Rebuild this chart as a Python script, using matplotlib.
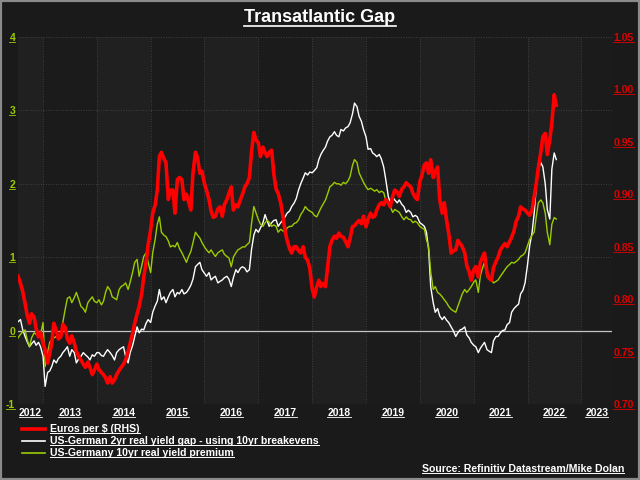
import matplotlib
matplotlib.use('Agg')
import matplotlib.pyplot as plt
from matplotlib.lines import Line2D
from matplotlib.patches import Rectangle
import matplotlib.dates as mdates
import pandas as pd
from datetime import datetime

plt.rcParams['font.family'] = ['Liberation Sans Narrow', 'Liberation Sans', 'DejaVu Sans']

# semi-monthly observations (1st and 15th), mid Jul 2012 - mid Jul 2022
dates = pd.date_range('2012-07-15', '2022-07-15', freq='SMS')

# Euros per $ (right axis)
eur_per_usd = [
    0.822, 0.815, 0.808, 0.796, 0.785, 0.777, 0.786, 0.783, 0.772, 0.764, 0.768, 0.758,
    0.752, 0.739, 0.748, 0.758, 0.777, 0.770, 0.762, 0.764, 0.776, 0.773, 0.762, 0.758,
    0.765, 0.758, 0.750, 0.745, 0.742, 0.738, 0.735, 0.740, 0.735, 0.728, 0.732, 0.738,
    0.733, 0.730, 0.728, 0.725, 0.720, 0.726, 0.720, 0.723, 0.728, 0.732, 0.735, 0.738,
    0.742, 0.750, 0.758, 0.768, 0.777, 0.786, 0.793, 0.805, 0.821, 0.835, 0.852, 0.866,
    0.882, 0.890, 0.904, 0.936, 0.940, 0.934, 0.930, 0.895, 0.904, 0.904, 0.882, 0.914,
    0.916, 0.914, 0.895, 0.900, 0.893, 0.885, 0.920, 0.940, 0.935, 0.920, 0.922, 0.910,
    0.904, 0.895, 0.884, 0.878, 0.879, 0.886, 0.888, 0.879, 0.890, 0.895, 0.901, 0.907,
    0.885, 0.890, 0.888, 0.895, 0.900, 0.907, 0.910, 0.916, 0.940, 0.959, 0.952, 0.949,
    0.936, 0.945, 0.940, 0.936, 0.940, 0.942, 0.920, 0.905, 0.901, 0.892, 0.880, 0.865,
    0.856, 0.848, 0.844, 0.850, 0.850, 0.846, 0.844, 0.850, 0.840, 0.837, 0.830, 0.810,
    0.802, 0.812, 0.818, 0.812, 0.815, 0.812, 0.830, 0.850, 0.856, 0.860, 0.858, 0.863,
    0.860, 0.859, 0.855, 0.850, 0.858, 0.869, 0.870, 0.873, 0.875, 0.872, 0.879, 0.869,
    0.876, 0.882, 0.878, 0.879, 0.885, 0.890, 0.892, 0.890, 0.895, 0.892, 0.888, 0.898,
    0.904, 0.902, 0.898, 0.905, 0.907, 0.911, 0.909, 0.907, 0.901, 0.897, 0.895, 0.912,
    0.918, 0.928, 0.930, 0.920, 0.933, 0.916, 0.922, 0.926, 0.895, 0.882, 0.892, 0.875,
    0.863, 0.844, 0.846, 0.847, 0.856, 0.853, 0.850, 0.844, 0.832, 0.826, 0.818, 0.828,
    0.831, 0.821, 0.835, 0.840, 0.844, 0.825, 0.820, 0.818, 0.830, 0.836, 0.840, 0.847,
    0.850, 0.853, 0.850, 0.855, 0.859, 0.865, 0.874, 0.879, 0.888, 0.886, 0.885, 0.882,
    0.880, 0.885, 0.898, 0.910, 0.925, 0.940, 0.955, 0.958, 0.938, 0.952, 0.968, 0.995,
    0.985,
]

# US-German 2yr real yield gap - using 10yr breakevens (left axis)
gap_2yr = [
    0.12, 0.15, 0.02, -0.08, -0.15, -0.22, -0.18, -0.14, -0.20, -0.16, -0.22, -0.35,
    -0.76, -0.57, -0.55, -0.49, -0.40, -0.44, -0.38, -0.35, -0.30, -0.26, -0.22, -0.35,
    -0.26, -0.30, -0.44, -0.38, -0.35, -0.30, -0.33, -0.36, -0.40, -0.33, -0.35, -0.30,
    -0.30, -0.34, -0.35, -0.30, -0.26, -0.30, -0.34, -0.40, -0.30, -0.26, -0.24, -0.22,
    -0.35, -0.44, -0.30, -0.20, -0.08, 0.05, -0.03, 0.02, 0.01, 0.10, 0.15, 0.11,
    0.25, 0.34, 0.40, 0.56, 0.42, 0.46, 0.38, 0.46, 0.52, 0.56, 0.46, 0.52,
    0.50, 0.56, 0.50, 0.52, 0.56, 0.62, 0.70, 0.87, 0.90, 0.93, 0.83, 0.78,
    0.74, 0.79, 0.69, 0.72, 0.74, 0.65, 0.67, 0.69, 0.72, 0.74, 0.70, 0.60,
    0.72, 0.83, 0.79, 0.85, 0.87, 0.85, 0.80, 0.83, 1.10, 1.30, 1.38, 1.34,
    1.40, 1.47, 1.58, 1.50, 1.42, 1.47, 1.50, 1.51, 1.42, 1.47, 1.50, 1.55,
    1.60, 1.63, 1.69, 1.74, 1.80, 1.92, 2.00, 2.08, 2.15, 2.12, 2.16, 2.15,
    2.18, 2.22, 2.33, 2.40, 2.45, 2.50, 2.58, 2.64, 2.66, 2.71, 2.66, 2.64,
    2.74, 2.72, 2.76, 2.78, 2.83, 2.95, 3.10, 3.05, 2.92, 2.85, 2.74, 2.64,
    2.47, 2.48, 2.42, 2.40, 2.37, 2.40, 2.34, 2.23, 2.06, 1.83, 1.74, 1.82,
    1.78, 1.74, 1.78, 1.72, 1.69, 1.61, 1.64, 1.61, 1.55, 1.57, 1.55, 1.47,
    1.45, 1.42, 1.34, 1.10, 0.60, 0.38, 0.25, 0.30, 0.20, 0.15, 0.19, 0.14,
    0.11, 0.05, 0.00, -0.08, -0.03, 0.01, 0.02, 0.05, -0.06, -0.10, -0.16, -0.20,
    -0.22, -0.30, -0.24, -0.20, -0.16, -0.26, -0.28, -0.30, -0.14, -0.08, -0.08, -0.03,
    0.00, 0.01, 0.08, 0.11, 0.25, 0.30, 0.33, 0.36, 0.50, 0.55, 0.65, 0.90,
    1.15, 1.34, 1.60, 1.96, 2.20, 2.29, 2.23, 2.00, 1.65, 1.52, 2.20, 2.42,
    2.33,
]

# US-Germany 10yr real yield premium (left axis)
premium_10yr = [
    -0.10, -0.05, -0.02, 0.01, -0.12, -0.22, -0.10, -0.03, -0.05, -0.08, -0.05, 0.11,
    -0.49, -0.30, -0.16, -0.12, -0.10, -0.08, -0.06, -0.08, 0.11, 0.30, 0.44, 0.46,
    0.38, 0.45, 0.52, 0.42, 0.33, 0.30, 0.25, 0.38, 0.42, 0.46, 0.40, 0.38,
    0.42, 0.35, 0.40, 0.52, 0.60, 0.55, 0.46, 0.44, 0.42, 0.56, 0.60, 0.62,
    0.65, 0.56, 0.66, 0.80, 0.93, 0.97, 0.74, 0.88, 1.01, 1.06, 0.93, 0.79,
    1.06, 1.25, 1.45, 1.55, 1.34, 1.30, 1.28, 1.22, 1.14, 1.16, 1.14, 1.20,
    1.12, 1.06, 1.00, 0.93, 1.01, 1.08, 1.20, 1.34, 1.30, 1.26, 1.20, 1.14,
    1.10, 1.06, 1.10, 1.05, 1.01, 1.06, 1.08, 1.10, 1.04, 1.01, 0.99, 0.87,
    1.00, 1.06, 1.10, 1.12, 1.14, 1.14, 1.17, 1.20, 1.45, 1.69, 1.61, 1.51,
    1.45, 1.42, 1.47, 1.50, 1.48, 1.42, 1.44, 1.42, 1.34, 1.38, 1.36, 1.34,
    1.40, 1.42, 1.42, 1.46, 1.47, 1.51, 1.58, 1.63, 1.69, 1.65, 1.63, 1.61,
    1.57, 1.55, 1.61, 1.67, 1.72, 1.78, 1.86, 1.96, 1.98, 2.02, 2.00, 2.00,
    1.98, 2.02, 2.00, 2.04, 2.10, 2.25, 2.33, 2.29, 2.15, 2.08, 2.02, 1.96,
    1.92, 1.94, 1.92, 1.90, 1.92, 1.88, 1.90, 1.88, 1.78, 1.72, 1.69, 1.61,
    1.65, 1.63, 1.61, 1.55, 1.51, 1.55, 1.52, 1.51, 1.47, 1.49, 1.47, 1.42,
    1.40, 1.38, 1.24, 1.14, 0.80, 0.56, 0.60, 0.52, 0.50, 0.46, 0.42, 0.38,
    0.33, 0.29, 0.27, 0.25, 0.33, 0.42, 0.50, 0.56, 0.52, 0.56, 0.60, 0.66,
    0.69, 0.52, 0.75, 0.85, 0.93, 0.74, 0.70, 0.69, 0.65, 0.67, 0.69, 0.74,
    0.78, 0.83, 0.87, 0.90, 0.93, 0.92, 0.94, 0.97, 1.01, 1.03, 1.06, 1.16,
    1.24, 1.30, 1.34, 1.55, 1.74, 1.78, 1.74, 1.60, 1.34, 1.17, 1.45, 1.54,
    1.52,
]

series_labels = ['Euros per $ (RHS)',
                 'US-German 2yr real yield gap - using 10yr breakevens',
                 'US-Germany 10yr real yield premium']
left_ticks = [-1, 0, 1, 2, 3, 4]
right_ticks = [0.70, 0.75, 0.80, 0.85, 0.90, 0.95, 1.00, 1.05]
year_labels = ['2012', '2013', '2014', '2015', '2016', '2017', '2018', '2019',
               '2020', '2021', '2022', '2023']

RED = '#ff0000'
RED_TXT = '#dd0000'
GREEN = '#9ccc00'
BG = '#1a1a1a'

fig = plt.figure(figsize=(6.4, 4.8), dpi=100, facecolor=BG)
ax = fig.add_axes([18/640, 76/480, 594/640, 367/480])
ax.set_facecolor('#1b1b1b')
ax2 = ax.twinx()

# alternating year bands
for yr in range(2012, 2024, 2):
    ax.axvspan(datetime(yr, 1, 1), datetime(yr + 1, 1, 1), color='#202020', lw=0, zorder=0)

ax.plot(dates, gap_2yr, color='white', lw=1.0, zorder=3)
ax.plot(dates, premium_10yr, color=GREEN, lw=1.0, zorder=3)
ax.axhline(0, color='#c4c4c4', lw=0.9, zorder=2)
ax2.plot(dates, eur_per_usd, color=RED, lw=2.6, solid_joinstyle='round')

ax.set_xlim(datetime(2012, 7, 15), datetime(2023, 7, 28))
ax.set_ylim(-1, 4)
ax2.set_ylim(0.70, 1.05)

ax.set_yticks(left_ticks)
ax.set_yticklabels([str(t) for t in left_ticks])
ax2.set_yticks(right_ticks)
ax2.set_yticklabels(['%.2f' % t for t in right_ticks])

# year gridlines at Jan 1, labels at mid-year (squeezed at the ends)
ax.xaxis.set_major_locator(mdates.YearLocator())
ax.xaxis.set_major_formatter(plt.NullFormatter())
label_pos = [datetime(2012, 10, 5)] + [datetime(y, 7, 2) for y in range(2013, 2023)] + [datetime(2023, 4, 15)]
ax.xaxis.set_minor_locator(plt.FixedLocator(mdates.date2num(label_pos)))
ax.xaxis.set_minor_formatter(plt.FixedFormatter(year_labels))

grid_kw = dict(color='#4a4a4a', lw=0.6, linestyle=(0, (1, 2)))
ax.grid(which='major', axis='both', **grid_kw)
ax.set_axisbelow(True)

ax.tick_params(axis='y', length=0, pad=2, labelcolor=GREEN, labelsize=7.5)
ax2.tick_params(axis='y', length=0, pad=1, labelcolor=RED_TXT, labelsize=7.5)
ax.tick_params(axis='x', which='both', length=0, pad=3, labelcolor='white', labelsize=7.5)
for lab in ax.get_yticklabels() + ax2.get_yticklabels() + ax.get_xticklabels(minor=True):
    lab.set_fontweight('bold')
for a in (ax, ax2):
    for s in a.spines.values():
        s.set_visible(False)

title = fig.text(0.5, 1 - 18/480, 'Transatlantic Gap', ha='center', va='center',
                 color='white', fontsize=13, fontweight='bold')

# legend
leg_texts = []
for i, (lab, col, lw) in enumerate(zip(series_labels, [RED, 'white', GREEN], [2.6, 1.2, 1.2])):
    yy = 1 - (429 + 12 * i) / 480
    fig.add_artist(Line2D([22/640, 45/640], [yy, yy], color=col, lw=lw, transform=fig.transFigure))
    leg_texts.append(fig.text(50/640, yy, lab, ha='left', va='center', color='white',
                              fontsize=7.6, fontweight='bold'))

source = fig.text(624/640, 1 - 469/480, 'Source: Refinitiv Datastream/Mike Dolan', ha='right',
                  va='center', color='white', fontsize=7.6, fontweight='bold')

fig.add_artist(Rectangle((0, 0), 1, 1, transform=fig.transFigure, fill=False,
                         edgecolor='#8a8a8a', lw=3))

# underline texts
fig.canvas.draw()
renderer = fig.canvas.get_renderer()
inv = fig.transFigure.inverted()


def underline(txt, color, lw=0.7):
    bb = txt.get_window_extent(renderer=renderer)
    (x0, y0), (x1, _) = inv.transform([(bb.x0, bb.y0 + 1), (bb.x1, bb.y0)])
    fig.add_artist(Line2D([x0, x1], [y0, y0], color=color, lw=lw, transform=fig.transFigure))


underline(title, 'white', lw=1.2)
for t in leg_texts + [source]:
    underline(t, 'white')
for t in ax.get_xticklabels(minor=True):
    underline(t, 'white', lw=0.6)
for t in ax.get_yticklabels():
    underline(t, GREEN, lw=0.6)
for t in ax2.get_yticklabels():
    underline(t, RED_TXT, lw=0.6)

fig.savefig('out.png', dpi=100, facecolor=BG)
